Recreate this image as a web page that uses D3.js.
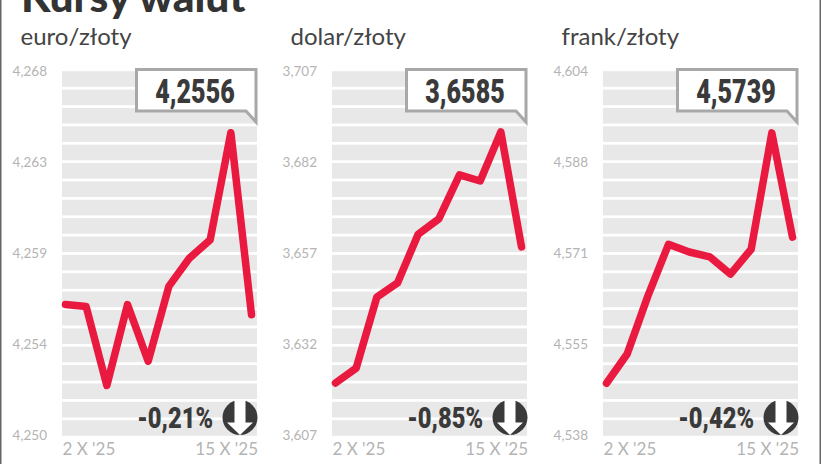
<!DOCTYPE html>
<html>
<head>
<meta charset="utf-8">
<script src="https://cdn.jsdelivr.net/npm/d3@7"></script>
<style>
html, body { margin: 0; padding: 0; background: #fff; }
svg { display: block; }
text { font-family: Lato, sans-serif; }
.axis path, .axis line { display: none; }
.axis text { fill: #b4b4b4; font-family: Lato, sans-serif; }
.big { font-family: Roboto, sans-serif; font-weight: 900; fill: #3a3a3a; }
</style>
</head>
<body>
<svg width="821" height="464"></svg>
<script>
var days = ["2 X", "3 X", "6 X", "7 X", "8 X", "9 X", "10 X", "13 X", "14 X", "15 X"];

var euroValues = [4.2564, 4.2563, 4.2524, 4.2564, 4.2536, 4.2573, 4.2587, 4.2596, 4.2649, 4.2559];
var dollarValues = [3.6210, 3.6251, 3.6446, 3.6485, 3.6619, 3.6661, 3.6782, 3.6765, 3.6900, 3.6584];
var frankValues = [4.5472, 4.5525, 4.5630, 4.5724, 4.5710, 4.5701, 4.5670, 4.5715, 4.5926, 4.5737];

var euroTicks = [4.268, 4.2635, 4.259, 4.2545, 4.250];
var dollarTicks = [3.707, 3.682, 3.657, 3.632, 3.607];
var frankTicks = [4.604, 4.5875, 4.571, 4.5545, 4.538];

var euroLabels = ["4,268", "4,263", "4,259", "4,254", "4,250"];
var dollarLabels = ["3,707", "3,682", "3,657", "3,632", "3,607"];
var frankLabels = ["4,604", "4,588", "4,571", "4,555", "4,538"];

var names = ["euro/złoty", "dolar/złoty", "frank/złoty"];
var lastRates = ["4,2556", "3,6585", "4,5739"];
var changes = ["-0,21%", "-0,85%", "-0,42%"];
var dayLabels = { "2 X": "2 X '25", "15 X": "15 X '25" };

var svg = d3.select("svg");

// panel left edges
var panels = [
  { left: 62, name: names[0], values: euroValues, ticks: euroTicks, labels: euroLabels, rate: lastRates[0], change: changes[0] },
  { left: 332, name: names[1], values: dollarValues, ticks: dollarTicks, labels: dollarLabels, rate: lastRates[1], change: changes[1] },
  { left: 603, name: names[2], values: frankValues, ticks: frankTicks, labels: frankLabels, rate: lastRates[2], change: changes[2] }
];

var plotW = 195;

var stripes = d3.scaleBand()
  .domain(d3.range(20))
  .range([71.2, 435.8])
  .paddingInner(0.15)
  .paddingOuter(0);

var x = d3.scalePoint()
  .domain(days)
  .range([3.5, 189.5]);

// frame on both sides
svg.append("rect").attr("x", 0).attr("y", 0).attr("width", 1.5).attr("height", 464).attr("fill", "#666");
svg.append("rect").attr("x", 819.5).attr("y", 0).attr("width", 1.5).attr("height", 464).attr("fill", "#666");

svg.append("text")
  .attr("x", 21)
  .attr("y", 12)
  .attr("font-size", 42.5)
  .attr("font-weight", 900)
  .attr("fill", "#333")
  .text("Kursy walut");

panels.forEach(function(p) {
  var y = d3.scaleLinear()
    .domain([p.ticks[4], p.ticks[0]])
    .range([434, 70]);

  var line = d3.line()
    .x(function(d, i) { return x(days[i]); })
    .y(function(d) { return y(d); });

  var g = svg.append("g").attr("transform", "translate(" + p.left + ",0)");

  g.append("text")
    .attr("x", -41.5)
    .attr("y", 45)
    .attr("font-size", 24)
    .attr("fill", "#444")
    .text(p.name);

  g.selectAll(".stripe")
    .data(stripes.domain())
    .enter().append("rect")
    .attr("class", "stripe")
    .attr("x", 0)
    .attr("y", function(d) { return stripes(d); })
    .attr("width", plotW)
    .attr("height", stripes.bandwidth())
    .attr("fill", "#e8e8e8");

  g.append("g")
    .attr("class", "axis")
    .attr("transform", "translate(-15,1)")
    .call(d3.axisLeft(y).tickValues(p.ticks).tickSize(0).tickPadding(0)
      .tickFormat(function(d, i) { return p.labels[i]; }))
    .selectAll("text")
    .attr("font-size", 13.5);

  var xAxis = g.append("g")
    .attr("class", "axis")
    .attr("transform", "translate(0,443)")
    .call(d3.axisBottom(x).tickValues(["2 X", "15 X"]).tickSize(0).tickPadding(0)
      .tickFormat(function(d) { return dayLabels[d]; }));

  xAxis.selectAll("text")
    .attr("font-size", 17)
    .attr("text-anchor", function(d) { return d == "2 X" ? "start" : "end"; })
    .attr("dx", function(d) { return d == "2 X" ? -3.5 : 6; });

  g.append("path")
    .datum(p.values)
    .attr("fill", "none")
    .attr("stroke", "#e9193f")
    .attr("stroke-width", 7.5)
    .attr("stroke-linejoin", "round")
    .attr("stroke-linecap", "round")
    .attr("d", line);

  // callout with the last rate
  g.append("path")
    .attr("d", "M74.5,69.5H194V122L184,111H74.5Z")
    .attr("fill", "#fff")
    .attr("stroke", "#a8a8a8")
    .attr("stroke-width", 3);

  g.append("text")
    .attr("class", "big")
    .attr("transform", "translate(133,103) scale(0.76,1)")
    .attr("text-anchor", "middle")
    .attr("font-size", 33)
    .text(p.rate);

  g.append("text")
    .attr("class", "big")
    .attr("transform", "translate(151,428) scale(0.79,1)")
    .attr("text-anchor", "end")
    .attr("font-size", 30)
    .text(p.change);

  // down arrow badge
  var badge = g.append("g").attr("transform", "translate(178,417.5)");
  badge.append("circle").attr("r", 17.5).attr("fill", "#3a3a3a");
  badge.append("path")
    .attr("d", "M-5.5,-18H5.5V5H13L0,17.5L-13,5H-5.5Z")
    .attr("fill", "#fff");
});
</script>
</body>
</html>
